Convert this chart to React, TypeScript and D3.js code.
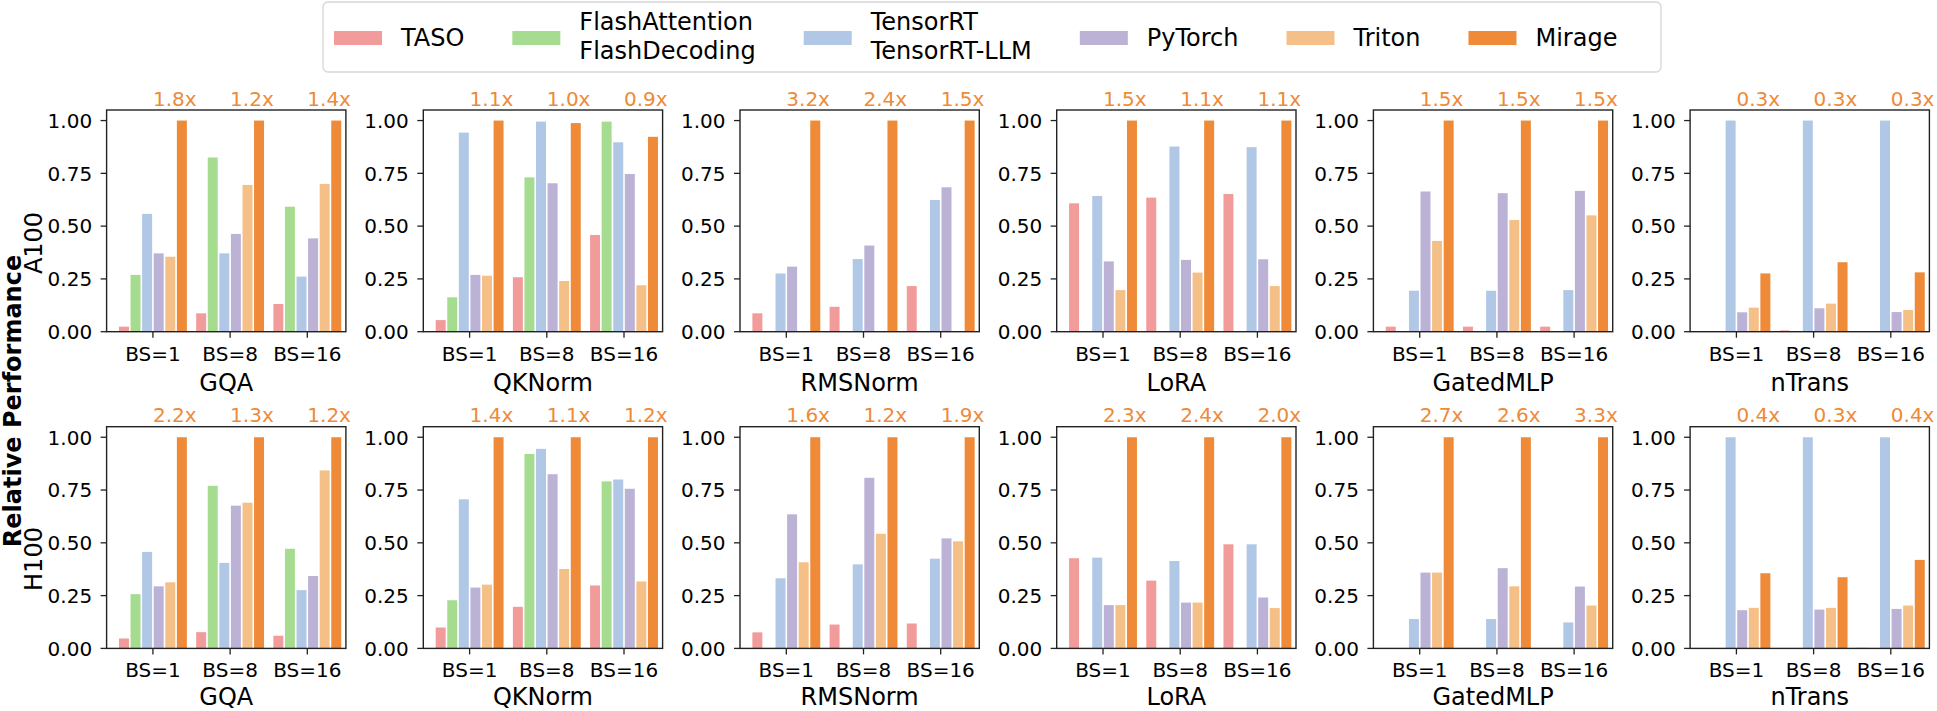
import React, { useMemo } from "react";
import * as d3 from "d3";

// ---------- data ----------
const KERNELS = ["GQA", "QKNorm", "RMSNorm", "LoRA", "GatedMLP", "nTrans"];
const BATCHES = ["BS=1", "BS=8", "BS=16"];
const DEVICES = ["A100", "H100"];
const SYSTEMS = ["TASO", "FlashAttention\nFlashDecoding", "TensorRT\nTensorRT-LLM", "PyTorch", "Triton", "Mirage"];
const COLORS = ["#F19C9A", "#A6DC8F", "#B1C7E6", "#BBB2D6", "#F5C087", "#EE8A38"];
const Y_TICKS = [0, 0.25, 0.5, 0.75, 1.0];

// values ordered kernel-major (GQA BS=1,8,16, QKNorm BS=1,8,16, ...)
const A100_TASO = [0.024, 0.087, 0.131, 0.055, 0.258, 0.458, 0.087, 0.118, 0.216, 0.608, 0.635, 0.652, 0.024, 0.024, 0.024, null, 0.006, 0.003];
const A100_FLASH = [0.269, 0.825, 0.592, 0.163, 0.731, 0.995, null, null, null, null, null, null, null, null, null, null, null, null];
const A100_TRT = [0.558, 0.371, 0.261, 0.943, 0.995, 0.897, 0.276, 0.344, 0.624, 0.643, 0.877, 0.874, 0.194, 0.194, 0.197, 1.0, 1.0, 1.0];
const A100_TORCH = [0.371, 0.463, 0.442, 0.269, 0.703, 0.747, 0.308, 0.408, 0.684, 0.333, 0.34, 0.343, 0.664, 0.656, 0.667, 0.092, 0.111, 0.093];
const A100_TRITON = [0.355, 0.695, 0.7, 0.265, 0.24, 0.22, null, null, null, 0.197, 0.28, 0.216, 0.43, 0.529, 0.551, 0.114, 0.133, 0.103];
const A100_MIRAGE = [1, 1, 1, 1, 0.988, 0.923, 1, 1, 1, 1, 1, 1, 1, 1, 1, 0.276, 0.329, 0.281];
const A100_SPEEDUP = ["1.8x", "1.2x", "1.4x", "1.1x", "1.0x", "0.9x", "3.2x", "2.4x", "1.5x", "1.5x", "1.1x", "1.1x", "1.5x", "1.5x", "1.5x", "0.3x", "0.3x", "0.3x"];

const H100_TASO = [0.047, 0.077, 0.06, 0.099, 0.197, 0.298, 0.076, 0.113, 0.118, 0.427, 0.321, 0.493, 0.002, 0.002, null, null, null, 0.003];
const H100_FLASH = [0.257, 0.77, 0.472, 0.228, 0.921, 0.791, null, null, null, null, null, null, null, null, null, null, null, null];
const H100_TRT = [0.457, 0.405, 0.276, 0.706, 0.945, 0.8, 0.332, 0.398, 0.425, 0.43, 0.414, 0.493, 0.139, 0.139, 0.123, 1.0, 1.0, 1.0];
const H100_TORCH = [0.294, 0.676, 0.343, 0.288, 0.825, 0.756, 0.635, 0.808, 0.521, 0.205, 0.217, 0.241, 0.359, 0.38, 0.293, 0.181, 0.184, 0.187];
const H100_TRITON = [0.313, 0.69, 0.843, 0.302, 0.376, 0.317, 0.408, 0.543, 0.507, 0.205, 0.217, 0.191, 0.359, 0.294, 0.203, 0.192, 0.192, 0.203];
const H100_MIRAGE = [1, 1, 1, 1, 1, 1, 1, 1, 1, 1, 1, 1, 1, 1, 1, 0.356, 0.337, 0.419];
const H100_SPEEDUP = ["2.2x", "1.3x", "1.2x", "1.4x", "1.1x", "1.2x", "1.6x", "1.2x", "1.9x", "2.3x", "2.4x", "2.0x", "2.7x", "2.6x", "3.3x", "0.4x", "0.3x", "0.4x"];

const SERIES = [
  [A100_TASO, A100_FLASH, A100_TRT, A100_TORCH, A100_TRITON, A100_MIRAGE],
  [H100_TASO, H100_FLASH, H100_TRT, H100_TORCH, H100_TRITON, H100_MIRAGE],
];
const SPEEDUPS = [A100_SPEEDUP, H100_SPEEDUP];

// ---------- layout ----------
const W = 1937;
const H = 711;
const FONT = "DejaVu Sans, Verdana, sans-serif";
const PANEL_LEFT0 = 106.6;
const PANEL_PITCH = 316.7;
const PANEL_W = 239.3;
const PANEL_H = 221.7;
const ROW_TOP = [110, 426.7];
const XLABEL_GAP = [58.8, 57.0];
const BAR_W = 0.15;
const TICK_FS = 20;
const LABEL_FS = 24;
const LEG_FS = 24;

function measure(text: string, size: number): number {
  if (typeof document === "undefined") return text.length * size * 0.6;
  const c = document.createElement("canvas");
  const ctx = c.getContext("2d");
  if (!ctx) return text.length * size * 0.6;
  ctx.font = `${size}px "DejaVu Sans"`;
  return ctx.measureText(text).width;
}

function Panel({ row, col }: { row: number; col: number }) {
  const left = PANEL_LEFT0 + col * PANEL_PITCH;
  const top = ROW_TOP[row];
  const x = d3.scaleLinear().domain([-0.6, 2.5]).range([0, PANEL_W]);
  const y = d3.scaleLinear().domain([0, 1.05]).range([PANEL_H, 0]);
  const groups = d3.range(BATCHES.length);
  const bw = x(BAR_W) - x(0);
  return (
    <g transform={`translate(${left},${top})`}>
      {groups.map((g) =>
        SERIES[row].map((arr, j) => {
          const v = arr[col * 3 + g];
          if (v === null || v === undefined) return null;
          const cx = x(g + (j - 2.5) * BAR_W);
          return (
            <rect
              key={`${g}-${j}`}
              x={cx - bw / 2 + 0.8}
              width={bw - 1.6}
              y={y(v)}
              height={y(0) - y(v)}
              fill={COLORS[j]}
            />
          );
        })
      )}
      <rect x={0} y={0} width={PANEL_W} height={PANEL_H} fill="none" stroke="#222" strokeWidth={1.4} />
      {Y_TICKS.map((t) => (
        <g key={t}>
          <line x1={-6} x2={0} y1={y(t)} y2={y(t)} stroke="#222" strokeWidth={1.3} />
          <text x={-14.5} y={y(t) + TICK_FS * 0.365} textAnchor="end" fontSize={TICK_FS} fontFamily={FONT} fill="#000">
            {d3.format(".2f")(t)}
          </text>
        </g>
      ))}
      {groups.map((g) => (
        <g key={`xt${g}`}>
          <line x1={x(g)} x2={x(g)} y1={PANEL_H} y2={PANEL_H + 6} stroke="#222" strokeWidth={1.3} />
          <text x={x(g)} y={PANEL_H + 29} textAnchor="middle" fontSize={TICK_FS} fontFamily={FONT} fill="#000">
            {BATCHES[g]}
          </text>
          <text x={x(g)} y={-4.3} textAnchor="start" fontSize={TICK_FS} fontFamily={FONT} fill={COLORS[5]}>
            {SPEEDUPS[row][col * 3 + g]}
          </text>
        </g>
      ))}
      <text x={PANEL_W / 2} y={PANEL_H + XLABEL_GAP[row]} textAnchor="middle" fontSize={LABEL_FS} fontFamily={FONT} fill="#000">
        {KERNELS[col]}
      </text>
    </g>
  );
}

function Legend() {
  const items = useMemo(() => {
    let cx = 334;
    return SYSTEMS.map((s, i) => {
      const lines = s.split("\n");
      const tw = Math.max(...lines.map((l) => measure(l, LEG_FS)));
      const it = { x: cx, lines, color: COLORS[i] };
      cx += 48 + 19 + tw + 48;
      return it;
    });
  }, []);
  return (
    <g>
      <rect x={323} y={2} width={1338} height={70} rx={5} fill="#fff" fillOpacity={0.8} stroke="#d6d6d6" strokeWidth={1.3} />
      {items.map((it, i) => (
        <g key={i}>
          <rect x={it.x} y={31} width={48} height={14} fill={it.color} />
          {it.lines.length === 1 ? (
            <text x={it.x + 67} y={46} fontSize={LEG_FS} fontFamily={FONT} fill="#000">
              {it.lines[0]}
            </text>
          ) : (
            it.lines.map((l, k) => (
              <text key={k} x={it.x + 67} y={30.2 + k * 28.3} fontSize={LEG_FS} fontFamily={FONT} fill="#000">
                {l}
              </text>
            ))
          )}
        </g>
      ))}
    </g>
  );
}

export default function App() {
  const rowLabelY = [243, 559];
  return (
    <svg width={W} height={H} viewBox={`0 0 ${W} ${H}`} style={{ position: "absolute", left: 0, top: 0, background: "#fff" }}>
      <rect width={W} height={H} fill="#fff" />
      <Legend />
      {DEVICES.map((d, r) => (
        <g key={d}>
          {KERNELS.map((k, c) => (
            <Panel key={k} row={r} col={c} />
          ))}
          <text
            transform={`translate(42,${rowLabelY[r]}) rotate(-90)`}
            textAnchor="middle"
            fontSize={LABEL_FS}
            fontFamily={FONT}
            fill="#000"
          >
            {d}
          </text>
        </g>
      ))}
      <text transform="translate(21,401) rotate(-90)" textAnchor="middle" fontSize={24} fontWeight="bold" fontFamily={FONT} fill="#000">
        Relative Performance
      </text>
    </svg>
  );
}
